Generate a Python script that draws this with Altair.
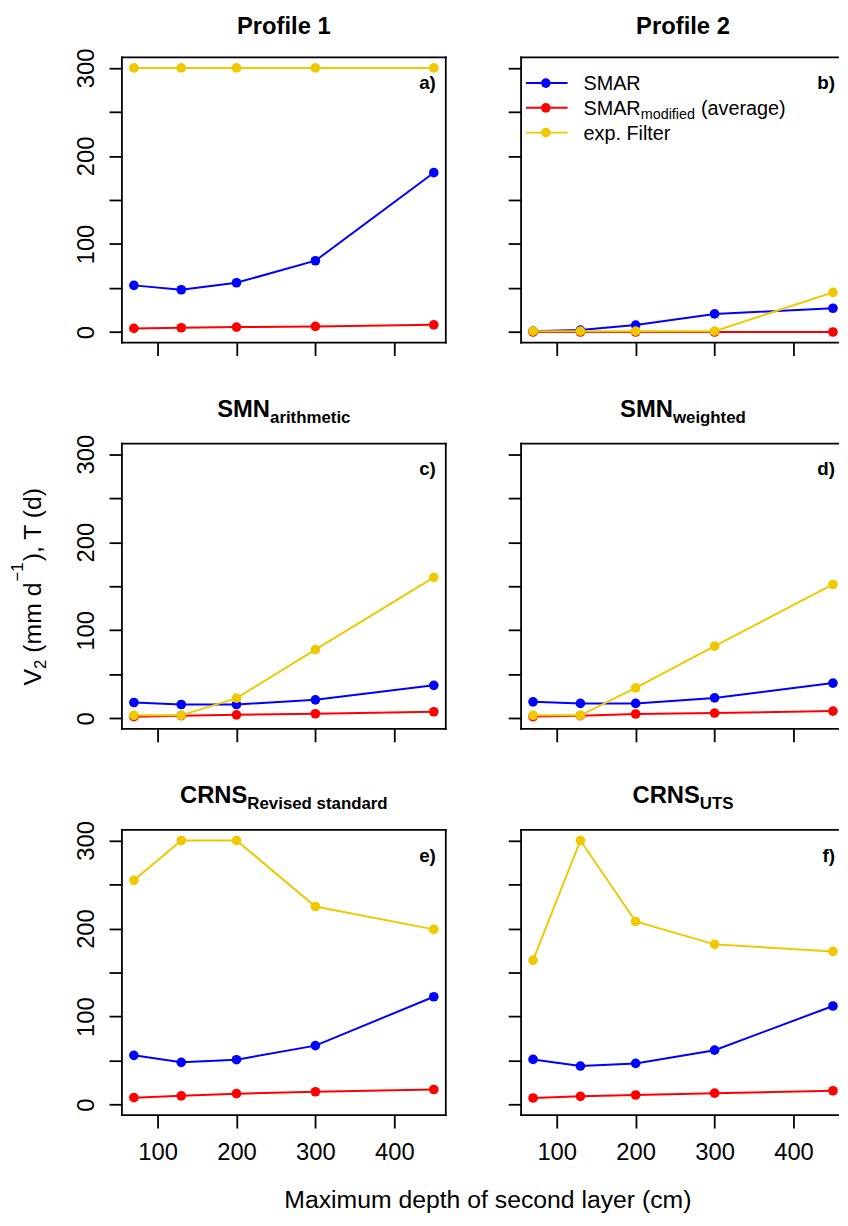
import altair as alt
import pandas as pd

# ---------------- data ----------------
depth = [70, 130, 200, 300, 450]
series_names = ["SMAR", "SMAR_mod", "expFilter"]
series_colors = ["#0000FF", "#FF0000", "#EEC900"]

a_smar = [53, 48, 56, 81, 181]
a_mod = [4.1, 4.9, 5.6, 6.4, 8.2]
a_exp = [300, 300, 300, 300, 300]
b_smar = [1, 2.2, 7.9, 20.6, 27]
b_mod = [0, 0, 0, 0, 0]
b_exp = [1, 1, 1, 1, 45]
c_smar = [18, 15.7, 15.7, 21, 37.5]
c_mod = [1.9, 3, 4, 5.2, 7.5]
c_exp = [3.4, 3.4, 23, 78, 160]
d_smar = [18.7, 16.9, 16.9, 23.2, 40]
d_mod = [2, 3, 4.9, 6, 8.2]
d_exp = [3.4, 3.4, 34.5, 82, 152]
e_smar = [56, 48, 51, 67, 122.5]
e_mod = [7.9, 10, 12.4, 14.6, 17.2]
e_exp = [254.7, 300, 300, 225, 199]
f_smar = [51.3, 43.8, 46.8, 61.8, 112]
f_mod = [7.5, 9.4, 10.9, 13, 15.7]
f_exp = [164, 300, 208, 182, 174]

panel_ids = ["a", "b", "c", "d", "e", "f"]
panel_values = {
    "a": [a_smar, a_mod, a_exp],
    "b": [b_smar, b_mod, b_exp],
    "c": [c_smar, c_mod, c_exp],
    "d": [d_smar, d_mod, d_exp],
    "e": [e_smar, e_mod, e_exp],
    "f": [f_smar, f_mod, f_exp],
}
panel_titles = {
    "a": ("Profile 1", ""),
    "b": ("Profile 2", ""),
    "c": ("SMN", "arithmetic"),
    "d": ("SMN", "weighted"),
    "e": ("CRNS", "Revised standard"),
    "f": ("CRNS", "UTS"),
}
y_ticks = [0, 50, 100, 150, 200, 250, 300]
x_ticks = [100, 200, 300, 400]
legend_labels = ["SMAR", "SMAR", "exp. Filter"]
x_title = "Maximum depth of second layer (cm)"
# y title pieces: (text, role)  role: main / sub / sup
y_title_parts = [("V", "main"), ("2", "sub"), ("(mm d", "main"),
                 ("\u22121", "sup"), ("), T (d)", "main")]
y_title_gaps = [0, 7, 1, 1, 0]

rows = []
for pid in panel_ids:
    for sname, vals in zip(series_names, panel_values[pid]):
        for d, v in zip(depth, vals):
            rows.append({"panel": pid, "series": sname, "depth": d, "value": v})
df = pd.DataFrame(rows)
dummy = pd.DataFrame({"k": [0]})

# ---------------- styling ----------------
FONT = "Liberation Sans"
W_FULL = 327
H = 288
X_DOM_FULL = [54.8, 465.2]
Y_DOM = [-12, 312]
LINE_W = 1.8
PT_SIZE = 95

BOLD_W = {"P": 667, "r": 389, "o": 611, "f": 333, "i": 278, "l": 278, "e": 556,
          " ": 278, "1": 556, "2": 556, "S": 667, "M": 833, "N": 722, "C": 722,
          "R": 722, "U": 722, "T": 611, "a": 556, "t": 333, "h": 611, "m": 889,
          "c": 556, "w": 778, "g": 611, "d": 611, "v": 556, "s": 556, "n": 611}
REG_W = {"S": 667, "M": 833, "A": 667, "R": 722, "m": 833, "o": 556, "d": 556,
         "i": 222, "f": 278, "e": 556, " ": 278, "V": 667, "2": 556, "(": 333,
         ")": 333, ",": 278, "T": 611, "1": 556, "\u2212": 584}


def text_w(s, size, table):
    return sum(table.get(ch, 556) for ch in s) * size / 1000.0


def txt(text, x, y, size, weight="normal", align="left", angle=0):
    return alt.Chart(dummy).mark_text(
        text=text, font=FONT, fontSize=size, fontWeight=weight, align=align,
        baseline="alphabetic", color="black", angle=angle
    ).encode(x=alt.value(x), y=alt.value(y))


def rule(x1, y1, x2, y2, color="black", width=LINE_W, opacity=1.0):
    return alt.Chart(dummy).mark_rule(
        color=color, strokeWidth=width, opacity=opacity, strokeCap="square"
    ).encode(x=alt.value(x1), x2=alt.value(x2), y=alt.value(y1), y2=alt.value(y2))


def panel(pid, col, row):
    W = W_FULL if col == 0 else 320
    xdom = X_DOM_FULL if col == 0 else [54.8, 54.8 + W * (X_DOM_FULL[1] - X_DOM_FULL[0]) / W_FULL]

    x_axis_kw = dict(values=x_ticks, labels=(row == 2), tickSize=13, tickWidth=LINE_W,
                     tickColor="black", domain=False, grid=False, labelFont=FONT,
                     labelFontSize=24, labelColor="black", labelPadding=13,
                     labelOverlap=False, labelFlush=False, title=None)
    if row == 2 and col == 0:
        x_axis_kw.update(title=x_title, titleFont=FONT,
                         titleFontSize=25, titleFontWeight="normal", titleColor="black",
                         titleX=369, titleY=93, titleAlign="center",
                         titleBaseline="alphabetic", titleAngle=0)
    y_axis_kw = dict(values=y_ticks, labels=(col == 0), tickSize=13, tickWidth=LINE_W,
                     tickColor="black", domain=False, grid=False, labelFont=FONT,
                     labelFontSize=24, labelColor="black", labelAngle=270,
                     labelAlign="center", labelBaseline="alphabetic", labelPadding=16,
                     labelOverlap=False, labelFlush=False,
                     labelExpr="datum.value % 100 == 0 ? datum.label : ''", title=None)

    x = alt.X("depth:Q", scale=alt.Scale(domain=xdom, nice=False, zero=False),
              axis=alt.Axis(**x_axis_kw))
    y = alt.Y("value:Q", scale=alt.Scale(domain=Y_DOM, nice=False, zero=False),
              axis=alt.Axis(**y_axis_kw))

    layers = []
    base = alt.Chart(df).transform_filter(alt.datum.panel == pid)
    for sname, color in zip(series_names, series_colors):
        sub = base.transform_filter(alt.datum.series == sname)
        layers.append(sub.mark_line(color=color, strokeWidth=2).encode(x=x, y=y))
        layers.append(sub.mark_circle(color=color, size=PT_SIZE, opacity=1).encode(x=x, y=y))

    # box
    layers.append(rule(0, 0, W, 0))
    layers.append(rule(0, H, W, H))
    layers.append(rule(0, 0, 0, H))
    if col == 0:
        layers.append(rule(W, 0, W, H))

    # panel title
    main, subt = panel_titles[pid]
    cx = W_FULL / 2
    if not subt:
        layers.append(txt(main, cx, -24, 24, "bold", "center"))
    else:
        wm = text_w(main, 24, BOLD_W)
        ws = text_w(subt, 17, BOLD_W)
        x0 = cx - (wm + ws) / 2
        layers.append(txt(main, x0, -27, 24, "bold", "left"))
        layers.append(txt(subt, x0 + wm, -21, 17, "bold", "left"))

    # panel letter
    layers.append(txt(pid + ")", W_FULL - 10, 32, 19, "bold", "right"))

    # y title (rotated, built from pieces with sub/superscript)
    if row == 1 and col == 0:
        sizes = {"main": 25, "sub": 17, "sup": 17}
        xpos = {"main": -82, "sub": -77, "sup": -100}
        total = sum(text_w(t, sizes[r], REG_W) + g
                    for (t, r), g in zip(y_title_parts, y_title_gaps))
        ycur = H / 2 + total / 2
        for (t, r), g in zip(y_title_parts, y_title_gaps):
            layers.append(txt(t, xpos[r], ycur, sizes[r], "normal", "left", 270))
            ycur -= text_w(t, sizes[r], REG_W) + g

    # legend
    if pid == "b":
        ys = [26, 51, 76]
        for yy, color, lab in zip(ys, series_colors, legend_labels):
            layers.append(rule(6, yy, 46, yy, color=color, width=2))
            layers.append(alt.Chart(dummy).mark_circle(color=color, size=PT_SIZE, opacity=1)
                          .encode(x=alt.value(25), y=alt.value(yy)))
            layers.append(txt(lab, 63, yy + 7, 20))
            if lab == "SMAR" and color == "#FF0000":
                xs = 63 + text_w("SMAR", 20, REG_W)
                layers.append(txt("modified", xs, yy + 11, 14.5))
                xa = xs + text_w("modified", 14.5, REG_W) + 6
                layers.append(txt("(average)", xa, yy + 7, 20))

    # invisible anchor for page placement
    if pid == "a":
        layers.append(rule(-115, -44, -115, -44, width=0, opacity=0))

    return alt.layer(*layers).properties(width=W, height=H)


panels = []
for r in range(3):
    panels.append(panel(panel_ids[2 * r], 0, r))
    panels.append(panel(panel_ids[2 * r + 1], 1, r))

chart = alt.concat(
    *panels, columns=2, spacing=alt.RowColnumber(row=102, column=76), bounds="flush"
).properties(padding=0, background="white").configure_view(strokeWidth=0)

chart.save("out.html", embed_options={"renderer": "svg", "actions": False})
